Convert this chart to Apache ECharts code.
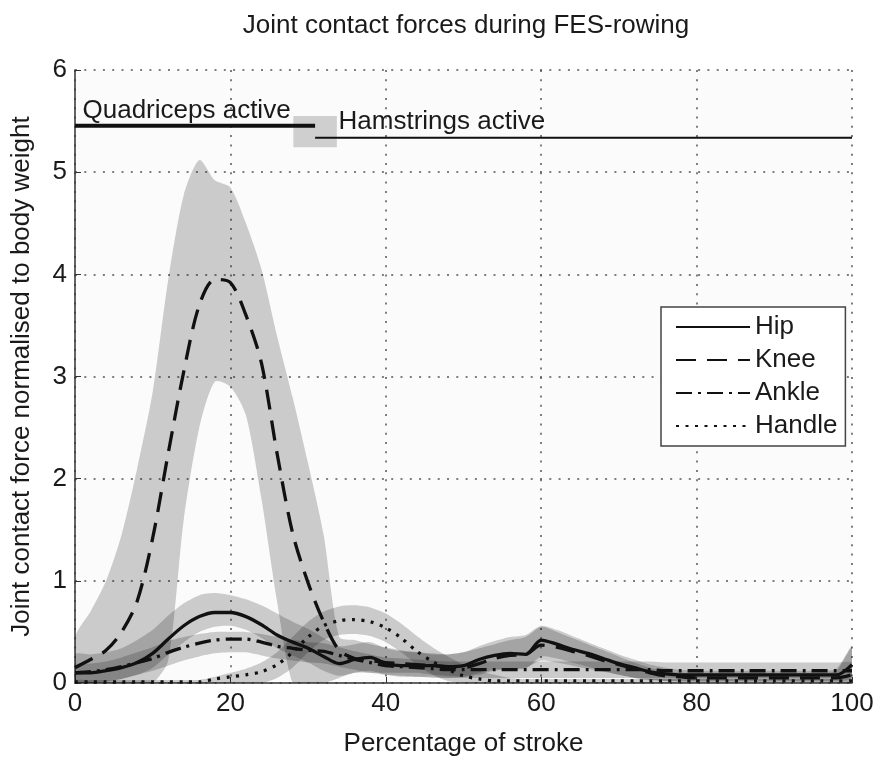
<!DOCTYPE html>
<html><head><meta charset="utf-8">
<script src="https://cdn.jsdelivr.net/npm/echarts@6/dist/echarts.min.js"></script>
<style>html,body{margin:0;padding:0;background:#fff}#c{width:883px;height:762px}</style>
</head><body><div id="c"></div>
<script>
// ---- data (percentage of stroke, step 2) ----
const xs = [0,2,4,6,8,10,12,14,16,18,20,22,24,26,28,30,32,34,36,38,40,42,44,46,48,50,52,54,56,58,60,62,64,66,68,70,72,74,76,78,80,82,84,86,88,90,92,94,96,98,100];

const hip    = [0.10,0.10,0.12,0.15,0.20,0.29,0.43,0.56,0.65,0.69,0.69,0.65,0.57,0.47,0.40,0.34,0.26,0.19,0.23,0.25,0.19,0.17,0.17,0.17,0.16,0.17,0.23,0.27,0.29,0.28,0.42,0.38,0.33,0.29,0.24,0.19,0.15,0.11,0.09,0.08,0.08,0.08,0.08,0.08,0.08,0.08,0.08,0.08,0.08,0.08,0.18];
const knee   = [0.15,0.23,0.32,0.50,0.80,1.42,2.25,3.05,3.70,3.95,3.92,3.60,3.13,2.25,1.47,0.98,0.60,0.32,0.24,0.22,0.20,0.19,0.18,0.17,0.16,0.15,0.19,0.24,0.27,0.28,0.37,0.35,0.31,0.27,0.22,0.18,0.14,0.10,0.07,0.06,0.05,0.05,0.05,0.05,0.05,0.05,0.05,0.05,0.05,0.05,0.08];
const ankle  = [0.10,0.11,0.13,0.16,0.20,0.24,0.30,0.35,0.39,0.42,0.43,0.43,0.40,0.36,0.34,0.32,0.31,0.27,0.23,0.20,0.17,0.16,0.15,0.14,0.13,0.13,0.13,0.13,0.13,0.13,0.13,0.13,0.13,0.13,0.13,0.13,0.13,0.13,0.12,0.12,0.12,0.12,0.12,0.12,0.12,0.12,0.12,0.12,0.12,0.12,0.12];
const handle = [0.01,0.01,0.01,0.01,0.01,0.01,0.01,0.01,0.01,0.04,0.06,0.08,0.11,0.18,0.30,0.45,0.56,0.61,0.62,0.60,0.54,0.44,0.31,0.21,0.13,0.07,0.04,0.02,0.02,0.02,0.02,0.02,0.02,0.02,0.02,0.02,0.02,0.02,0.02,0.02,0.02,0.02,0.02,0.02,0.02,0.02,0.02,0.02,0.02,0.02,0.02];

// variability bands (lower / upper)
const kneeLo   = [0,0,0,0,0,0,0.22,1.6,2.5,2.95,2.9,2.62,1.8,0.8,0,0,0,0.05,0.1,0.1,0.1,0.1,0.1,0.08,0.07,0.06,0.08,0.12,0.14,0.15,0.22,0.2,0.17,0.14,0.11,0.08,0.05,0.03,0.02,0.01,0.01,0.01,0.01,0.01,0.01,0.01,0.01,0.01,0.01,0.01,0.01];
const kneeHi   = [0.45,0.7,1.0,1.45,2.1,2.85,3.95,4.78,5.12,4.92,4.85,4.5,4.05,3.4,2.8,2.15,1.45,0.45,0.42,0.38,0.35,0.32,0.3,0.28,0.28,0.3,0.34,0.38,0.42,0.45,0.55,0.5,0.44,0.38,0.32,0.26,0.2,0.15,0.12,0.1,0.1,0.1,0.1,0.1,0.1,0.1,0.1,0.1,0.1,0.12,0.35];
const hipLo    = [0,0,0.02,0.04,0.08,0.15,0.28,0.4,0.5,0.55,0.56,0.52,0.44,0.34,0.27,0.2,0.12,0.07,0.1,0.12,0.08,0.06,0.06,0.06,0.05,0.06,0.1,0.13,0.14,0.14,0.26,0.24,0.2,0.16,0.12,0.08,0.05,0.03,0.02,0.02,0.02,0.02,0.02,0.02,0.02,0.02,0.02,0.02,0.02,0.02,0.05];
const hipHi    = [0.28,0.28,0.3,0.34,0.42,0.52,0.66,0.78,0.86,0.88,0.86,0.82,0.76,0.68,0.6,0.53,0.44,0.36,0.38,0.4,0.34,0.31,0.3,0.29,0.28,0.3,0.36,0.41,0.45,0.47,0.56,0.52,0.46,0.4,0.34,0.28,0.23,0.18,0.15,0.13,0.12,0.12,0.12,0.12,0.12,0.12,0.12,0.12,0.12,0.14,0.36];
const ankleLo  = [0,0,0.01,0.04,0.08,0.12,0.17,0.22,0.26,0.29,0.3,0.3,0.27,0.24,0.22,0.2,0.19,0.16,0.13,0.1,0.08,0.07,0.06,0.05,0.05,0.05,0.05,0.05,0.05,0.05,0.05,0.05,0.05,0.05,0.05,0.05,0.05,0.05,0.05,0.05,0.05,0.05,0.05,0.05,0.05,0.05,0.05,0.05,0.05,0.05,0.05];
const ankleHi  = [0.18,0.19,0.21,0.25,0.3,0.35,0.41,0.45,0.48,0.5,0.5,0.5,0.48,0.45,0.42,0.4,0.39,0.35,0.31,0.28,0.25,0.24,0.23,0.22,0.21,0.21,0.21,0.21,0.21,0.21,0.21,0.21,0.21,0.21,0.21,0.21,0.21,0.21,0.2,0.2,0.2,0.2,0.2,0.2,0.2,0.2,0.2,0.2,0.2,0.2,0.2];
const handleLo = [0,0,0,0,0,0,0,0,0,0,0,0,0,0.05,0.15,0.3,0.42,0.47,0.48,0.46,0.4,0.3,0.18,0.08,0.02,0,0,0,0,0,0,0,0,0,0,0,0,0,0,0,0,0,0,0,0,0,0,0,0,0,0];
const handleHi = [0.03,0.03,0.03,0.03,0.03,0.03,0.03,0.03,0.03,0.06,0.1,0.14,0.2,0.3,0.45,0.6,0.7,0.75,0.76,0.74,0.68,0.58,0.46,0.35,0.26,0.18,0.12,0.08,0.05,0.04,0.04,0.04,0.04,0.04,0.04,0.04,0.04,0.04,0.04,0.04,0.04,0.04,0.04,0.04,0.04,0.04,0.04,0.04,0.04,0.04,0.04];

// muscle activity annotations
const quadLine = [[0,5.455],[30.9,5.455]];
const hamLine  = [[30.9,5.337],[100,5.337]];
const switchBox = [[28.1,5.55],[33.7,5.245]];
const annotations = [[0.9,5.6,'Quadriceps active'],[33.85,5.49,'Hamstrings active']];

const seriesNames = ['Hip','Knee','Ankle','Handle'];

// ---- chart ----
const FONT = 'Liberation Sans, Arial, sans-serif';
const TXT = '#1a1a1a';
const zip = (a) => xs.map((x,i)=>[x,a[i]]);
function band(lo, hi) {
  return {
    type:'custom', silent:true, clip:true, z:1,
    data:[[50,0]],
    renderItem: function(params, api){
      const pts=[];
      for (let i=0;i<xs.length;i++) pts.push(api.coord([xs[i],hi[i]]));
      for (let i=xs.length-1;i>=0;i--) pts.push(api.coord([xs[i],lo[i]]));
      return {type:'polygon', shape:{points:pts, smooth:0.25}, style:{fill:'rgba(0,0,0,0.19)'}};
    }
  };
}
function meanLine(name, arr, type) {
  return {name, type:'line', data:zip(arr), symbol:'none', smooth:0.3, z:4,
    lineStyle:{color:'#111', width:3.3, type:type}, itemStyle:{color:'#111'}};
}
const chart = echarts.init(document.getElementById('c'));
chart.setOption({
  animation:false,
  backgroundColor:'#fff',
  title:{text:'Joint contact forces during FES-rowing', left:461, textAlign:'center', top:8,
    textStyle:{fontSize:26, fontWeight:'normal', color:TXT, fontFamily:FONT}},
  grid:{left:75, right:31, top:70, bottom:79, show:true, backgroundColor:'#fbfbfb', borderWidth:0},
  legend:{data:seriesNames, orient:'vertical', left:661, top:307, itemWidth:74, itemHeight:14, itemGap:7,
    padding:[7,8,7,14], borderColor:'#444', borderWidth:1.5, backgroundColor:'#fff',
    itemStyle:{opacity:0},
    textStyle:{fontSize:26, color:TXT, fontFamily:FONT}},
  xAxis:{type:'value', min:0, max:100, interval:20, name:'Percentage of stroke', nameLocation:'middle', nameGap:48,
    nameTextStyle:{fontSize:26, color:TXT, fontFamily:FONT},
    axisLine:{lineStyle:{color:'#333', width:1.5}}, axisTick:{inside:true, length:6, lineStyle:{color:'#333'}},
    axisLabel:{fontSize:26, color:TXT, fontFamily:FONT, margin:8},
    splitLine:{show:true, lineStyle:{color:'#555', width:1.5, type:[2,7.3]}}},
  yAxis:{type:'value', min:0, max:6, interval:1, name:'Joint contact force normalised to body weight', nameLocation:'middle', nameGap:40,
    nameTextStyle:{fontSize:26, color:TXT, fontFamily:FONT},
    axisLine:{show:true, lineStyle:{color:'#333', width:1.5}}, axisTick:{show:true, inside:true, length:6, lineStyle:{color:'#333'}},
    axisLabel:{fontSize:26, color:TXT, fontFamily:FONT, margin:8},
    splitLine:{show:true, lineStyle:{color:'#555', width:1.5, type:[2,7.3]}}},
  series:[
    band(kneeLo, kneeHi), band(hipLo, hipHi), band(ankleLo, ankleHi), band(handleLo, handleHi),
    meanLine('Hip', hip, 'solid'),
    meanLine('Knee', knee, [20,11]),
    meanLine('Ankle', ankle, [16,6,3,6]),
    meanLine('Handle', handle, [3,6.5]),
    {type:'line', data:[], z:2, silent:true,
      markArea:{silent:true, itemStyle:{color:'#cfcfcf', opacity:1}, data:[[{coord:switchBox[0]},{coord:switchBox[1]}]]}},
    {type:'line', data:quadLine, symbol:'none', z:5, silent:true, lineStyle:{color:'#111', width:4}},
    {type:'line', data:hamLine, symbol:'none', z:5, silent:true, lineStyle:{color:'#111', width:2}},
    {type:'scatter', data:annotations, symbolSize:1, z:6, silent:true, itemStyle:{color:'rgba(0,0,0,0)', opacity:1},
      label:{show:true, position:'right', distance:0, opacity:1, formatter:p=>p.data[2], fontSize:26, color:TXT, fontFamily:FONT}}
  ]
});
</script></body></html>
